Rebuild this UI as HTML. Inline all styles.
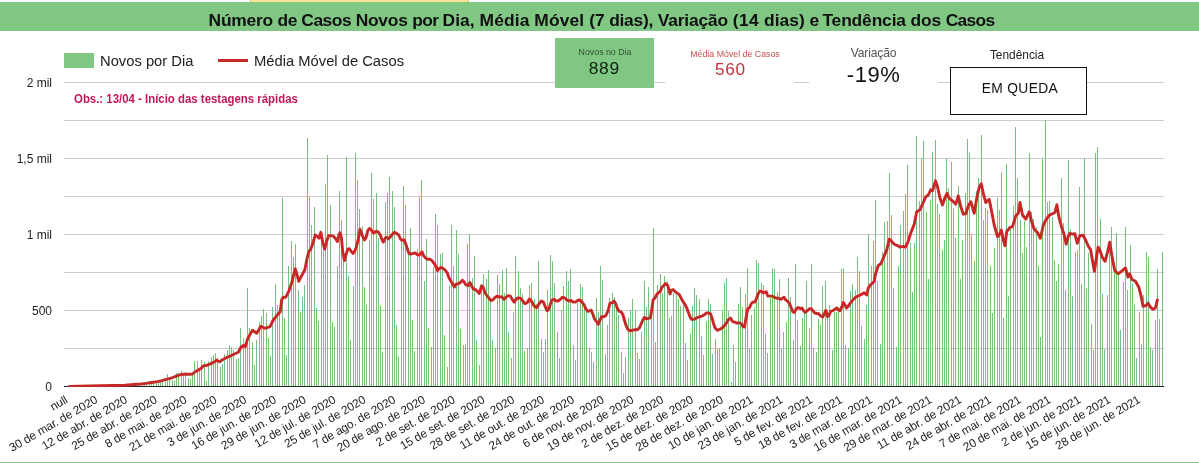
<!DOCTYPE html>
<html lang="pt-BR"><head><meta charset="utf-8"><title>Casos Novos por Dia</title>
<style>
html,body{margin:0;padding:0;background:#fff;}
body{width:1199px;height:463px;position:relative;overflow:hidden;font-family:"Liberation Sans",sans-serif;color:#222;}
svg{position:absolute;left:0;top:0;}
svg text{font-family:"Liberation Sans",sans-serif;}
h1,p{margin:0;font-weight:normal;}
.t,.sw,.card,.box,.strip,.hdr,.bot{position:absolute;white-space:nowrap;}
.chart,.cards,.legend{position:absolute;left:0;top:0;width:0;height:0;}
.hdr{left:0;top:2px;width:1199px;height:29px;background:#81c784;}
.strip{left:250px;top:0;width:219px;height:2px;background:#ffe599;border-left:1px solid #d9b44a;border-right:1px solid #d9b44a;box-sizing:border-box;}
.bot{left:0;top:462px;width:1199px;height:1px;background:#81c784;}
.ttl{display:flex;font-weight:bold;color:#111;letter-spacing:-0.18px;white-space:pre;}
.ttl span{min-width:0;}
.card{background:#fff;}
.box{box-sizing:border-box;border:1px solid #111;background:#fff;}
</style></head><body>
<div class="strip"></div>
<header class="hdr"><h1 class="t ttl" style="left:208.6px;top:9.77px;font-size:17.4px;line-height:17.4px;"><span style="flex:0 0 68.9px;letter-spacing:-0.24px">Número </span><span style="flex:0 0 23.8px;letter-spacing:-0.45px">de </span><span style="flex:0 0 54.4px;letter-spacing:-0.45px">Casos </span><span style="flex:0 0 56.5px;letter-spacing:-0.25px">Novos </span><span style="flex:0 0 30.4px;letter-spacing:-0.61px">por </span><span style="flex:0 0 37.0px;letter-spacing:0.06px">Dia, </span><span style="flex:0 0 54.8px;letter-spacing:0.12px">Média </span><span style="flex:0 0 54.9px;letter-spacing:0.14px">Móvel </span><span style="flex:0 0 19.9px;letter-spacing:-0.15px">(7 </span><span style="flex:0 0 48.5px;letter-spacing:-0.25px">dias), </span><span style="flex:0 0 75.2px;letter-spacing:-0.14px">Variação </span><span style="flex:0 0 31.2px;letter-spacing:0.32px">(14 </span><span style="flex:0 0 45.5px;letter-spacing:0.02px">dias) </span><span style="flex:0 0 12.9px;letter-spacing:-0.83px">e </span><span style="flex:0 0 88.2px;letter-spacing:-0.14px">Tendência </span><span style="flex:0 0 35.1px;letter-spacing:-0.15px">dos </span><span style="flex:0 0 52.9px;letter-spacing:-0.70px">Casos</span></h1></header>
<main class="chart">
<svg width="1199" height="463" viewBox="0 0 1199 463" role="img" aria-label="Casos novos por dia e média móvel">
<g shape-rendering="crispEdges" fill="#cccccc">
<rect x="64" y="348" width="1100" height="1"/>
<rect x="64" y="310" width="1100" height="1"/>
<rect x="64" y="272" width="1100" height="1"/>
<rect x="64" y="234" width="1100" height="1"/>
<rect x="64" y="196" width="1100" height="1"/>
<rect x="64" y="158" width="1100" height="1"/>
<rect x="64" y="120" width="1100" height="1"/>
<rect x="64" y="82" width="1100" height="1"/>
</g>
<path d="M112 386V385h1V386zM114 386V385h1V386zM117 386V385h1V386zM119 386V385h1V386zM121 386V385h1V386zM128 386V385h1V386zM130 386V385h1V386zM133 386V385h1V386zM135 386V384h1V386zM137 386V384h1V386zM139 386V385h1V386zM142 386V385h1V386zM144 386V383h1V386zM146 386V383h1V386zM149 386V383h1V386zM151 386V381h1V386zM153 386V382h1V386zM156 386V383h1V386zM158 386V383h1V386zM160 386V380h1V386zM162 386V379h1V386zM165 386V379h1V386zM167 386V374h1V386zM169 386V378h1V386zM172 386V380h1V386zM174 386V381h1V386zM176 386V373h1V386zM178 386V373h1V386zM181 386V371h1V386zM183 386V374h1V386zM185 386V372h1V386zM188 386V378h1V386zM190 386V379h1V386zM192 386V372h1V386zM194 386V361h1V386zM197 386V361h1V386zM199 386V368h1V386zM201 386V360h1V386zM204 386V362h1V386zM206 386V381h1V386zM208 386V361h1V386zM211 386V357h1V386zM213 386V355h1V386zM215 386V353h1V386zM217 386V358h1V386zM220 386V367h1V386zM222 386V364h1V386zM224 386V354h1V386zM227 386V350h1V386zM229 386V345h1V386zM231 386V347h1V386zM233 386V350h1V386zM236 386V359h1V386zM238 386V358h1V386zM240 386V328h1V386zM243 386V338h1V386zM245 386V342h1V386zM247 386V288h1V386zM249 386V328h1V386zM252 386V342h1V386zM254 386V365h1V386zM256 386V340h1V386zM259 386V322h1V386zM261 386V316h1V386zM263 386V309h1V386zM266 386V313h1V386zM268 386V338h1V386zM270 386V356h1V386zM272 386V307h1V386zM275 386V284h1V386zM277 386V305h1V386zM279 386V310h1V386zM282 386V198h1V386zM284 386V318h1V386zM286 386V355h1V386zM288 386V266h1V386zM291 386V241h1V386zM293 386V257h1V386zM295 386V244h1V386zM298 386V290h1V386zM300 386V312h1V386zM302 386V297h1V386zM304 386V285h1V386zM307 386V138h1V386zM309 386V197h1V386zM311 386V225h1V386zM314 386V207h1V386zM316 386V308h1V386zM318 386V321h1V386zM321 386V232h1V386zM323 386V245h1V386zM325 386V184h1V386zM327 386V155h1V386zM330 386V205h1V386zM332 386V322h1V386zM334 386V327h1V386zM337 386V266h1V386zM339 386V191h1V386zM341 386V220h1V386zM343 386V252h1V386zM346 386V157h1V386zM348 386V276h1V386zM350 386V340h1V386zM353 386V286h1V386zM355 386V153h1V386zM357 386V180h1V386zM359 386V209h1V386zM362 386V226h1V386zM364 386V287h1V386zM366 386V305h1V386zM369 386V240h1V386zM371 386V173h1V386zM373 386V199h1V386zM376 386V193h1V386zM378 386V238h1V386zM380 386V306h1V386zM382 386V352h1V386zM385 386V202h1V386zM387 386V193h1V386zM389 386V177h1V386zM392 386V191h1V386zM394 386V207h1V386zM396 386V325h1V386zM398 386V357h1V386zM401 386V240h1V386zM403 386V186h1V386zM405 386V205h1V386zM408 386V248h1V386zM410 386V228h1V386zM412 386V320h1V386zM414 386V351h1V386zM417 386V249h1V386zM419 386V197h1V386zM421 386V180h1V386zM424 386V281h1V386zM426 386V239h1V386zM428 386V328h1V386zM431 386V347h1V386zM433 386V267h1V386zM435 386V214h1V386zM437 386V225h1V386zM440 386V254h1V386zM442 386V253h1V386zM444 386V335h1V386zM447 386V367h1V386zM449 386V285h1V386zM451 386V225h1V386zM453 386V266h1V386zM456 386V230h1V386zM458 386V254h1V386zM460 386V329h1V386zM463 386V345h1V386zM465 386V344h1V386zM467 386V244h1V386zM469 386V234h1V386zM472 386V278h1V386zM474 386V256h1V386zM476 386V340h1V386zM479 386V365h1V386zM481 386V284h1V386zM483 386V274h1V386zM486 386V279h1V386zM488 386V270h1V386zM490 386V298h1V386zM492 386V340h1V386zM495 386V348h1V386zM497 386V275h1V386zM499 386V284h1V386zM502 386V270h1V386zM504 386V293h1V386zM506 386V268h1V386zM508 386V332h1V386zM511 386V358h1V386zM513 386V312h1V386zM515 386V256h1V386zM518 386V271h1V386zM520 386V288h1V386zM522 386V294h1V386zM524 386V351h1V386zM527 386V348h1V386zM529 386V285h1V386zM531 386V283h1V386zM534 386V299h1V386zM536 386V304h1V386zM538 386V261h1V386zM541 386V339h1V386zM543 386V352h1V386zM545 386V339h1V386zM547 386V290h1V386zM550 386V255h1V386zM552 386V261h1V386zM554 386V283h1V386zM557 386V332h1V386zM559 386V358h1V386zM561 386V310h1V386zM563 386V286h1V386zM566 386V271h1V386zM568 386V281h1V386zM570 386V269h1V386zM573 386V345h1V386zM575 386V360h1V386zM577 386V303h1V386zM580 386V284h1V386zM582 386V287h1V386zM584 386V307h1V386zM586 386V308h1V386zM589 386V348h1V386zM591 386V352h1V386zM593 386V362h1V386zM596 386V298h1V386zM598 386V312h1V386zM600 386V266h1V386zM602 386V280h1V386zM605 386V354h1V386zM607 386V325h1V386zM609 386V298h1V386zM612 386V293h1V386zM614 386V297h1V386zM616 386V307h1V386zM618 386V315h1V386zM621 386V352h1V386zM623 386V373h1V386zM625 386V357h1V386zM628 386V318h1V386zM630 386V310h1V386zM632 386V299h1V386zM635 386V310h1V386zM637 386V353h1V386zM639 386V359h1V386zM641 386V332h1V386zM644 386V281h1V386zM646 386V307h1V386zM648 386V287h1V386zM651 386V318h1V386zM653 386V228h1V386zM655 386V342h1V386zM657 386V285h1V386zM660 386V274h1V386zM662 386V293h1V386zM664 386V276h1V386zM667 386V281h1V386zM669 386V318h1V386zM671 386V316h1V386zM673 386V293h1V386zM676 386V295h1V386zM678 386V299h1V386zM680 386V306h1V386zM683 386V305h1V386zM685 386V343h1V386zM687 386V360h1V386zM690 386V334h1V386zM692 386V306h1V386zM694 386V288h1V386zM696 386V295h1V386zM699 386V299h1V386zM701 386V336h1V386zM703 386V355h1V386zM706 386V321h1V386zM708 386V299h1V386zM710 386V304h1V386zM712 386V354h1V386zM715 386V339h1V386zM717 386V349h1V386zM719 386V348h1V386zM722 386V310h1V386zM724 386V283h1V386zM726 386V278h1V386zM728 386V311h1V386zM731 386V382h1V386zM733 386V345h1V386zM735 386V362h1V386zM738 386V304h1V386zM740 386V287h1V386zM742 386V307h1V386zM745 386V294h1V386zM747 386V268h1V386zM749 386V348h1V386zM751 386V315h1V386zM754 386V308h1V386zM756 386V260h1V386zM758 386V263h1V386zM761 386V283h1V386zM763 386V285h1V386zM765 386V334h1V386zM767 386V353h1V386zM770 386V298h1V386zM772 386V268h1V386zM774 386V269h1V386zM777 386V292h1V386zM779 386V279h1V386zM781 386V348h1V386zM783 386V332h1V386zM786 386V322h1V386zM788 386V278h1V386zM790 386V297h1V386zM793 386V340h1V386zM795 386V264h1V386zM797 386V320h1V386zM800 386V346h1V386zM802 386V318h1V386zM804 386V312h1V386zM806 386V281h1V386zM809 386V328h1V386zM811 386V264h1V386zM813 386V348h1V386zM816 386V352h1V386zM818 386V319h1V386zM820 386V325h1V386zM822 386V286h1V386zM825 386V281h1V386zM827 386V313h1V386zM829 386V305h1V386zM832 386V350h1V386zM834 386V312h1V386zM836 386V312h1V386zM838 386V307h1V386zM841 386V269h1V386zM843 386V268h1V386zM845 386V345h1V386zM848 386V348h1V386zM850 386V291h1V386zM852 386V284h1V386zM855 386V290h1V386zM857 386V257h1V386zM859 386V271h1V386zM861 386V326h1V386zM864 386V339h1V386zM866 386V305h1V386zM868 386V234h1V386zM871 386V266h1V386zM873 386V241h1V386zM875 386V200h1V386zM877 386V281h1V386zM880 386V344h1V386zM882 386V252h1V386zM884 386V222h1V386zM887 386V221h1V386zM889 386V173h1V386zM891 386V215h1V386zM893 386V288h1V386zM896 386V347h1V386zM898 386V266h1V386zM900 386V225h1V386zM903 386V211h1V386zM905 386V194h1V386zM907 386V165h1V386zM910 386V243h1V386zM912 386V292h1V386zM914 386V243h1V386zM916 386V136h1V386zM919 386V201h1V386zM921 386V158h1V386zM923 386V141h1V386zM926 386V212h1V386zM928 386V279h1V386zM930 386V200h1V386zM932 386V152h1V386zM935 386V140h1V386zM937 386V204h1V386zM939 386V214h1V386zM942 386V250h1V386zM944 386V240h1V386zM946 386V158h1V386zM948 386V188h1V386zM951 386V162h1V386zM953 386V208h1V386zM955 386V238h1V386zM958 386V186h1V386zM960 386V279h1V386zM962 386V240h1V386zM965 386V193h1V386zM967 386V139h1V386zM969 386V153h1V386zM971 386V235h1V386zM974 386V261h1V386zM976 386V191h1V386zM978 386V178h1V386zM981 386V135h1V386zM983 386V220h1V386zM985 386V208h1V386zM987 386V210h1V386zM990 386V266h1V386zM992 386V313h1V386zM994 386V248h1V386zM997 386V198h1V386zM999 386V210h1V386zM1001 386V172h1V386zM1003 386V318h1V386zM1006 386V164h1V386zM1008 386V296h1V386zM1010 386V229h1V386zM1013 386V206h1V386zM1015 386V127h1V386zM1017 386V178h1V386zM1020 386V220h1V386zM1022 386V253h1V386zM1024 386V221h1V386zM1026 386V247h1V386zM1029 386V153h1V386zM1031 386V212h1V386zM1033 386V219h1V386zM1036 386V227h1V386zM1038 386V266h1V386zM1040 386V337h1V386zM1042 386V158h1V386zM1045 386V120h1V386zM1047 386V202h1V386zM1049 386V201h1V386zM1052 386V217h1V386zM1054 386V260h1V386zM1056 386V281h1V386zM1058 386V264h1V386zM1061 386V178h1V386zM1063 386V223h1V386zM1065 386V290h1V386zM1068 386V160h1V386zM1070 386V229h1V386zM1072 386V296h1V386zM1075 386V252h1V386zM1077 386V250h1V386zM1079 386V187h1V386zM1081 386V284h1V386zM1084 386V158h1V386zM1086 386V288h1V386zM1088 386V253h1V386zM1091 386V324h1V386zM1093 386V350h1V386zM1095 386V153h1V386zM1097 386V147h1V386zM1100 386V219h1V386zM1102 386V294h1V386zM1104 386V349h1V386zM1107 386V295h1V386zM1109 386V249h1V386zM1111 386V227h1V386zM1114 386V271h1V386zM1116 386V233h1V386zM1118 386V274h1V386zM1120 386V330h1V386zM1123 386V282h1V386zM1125 386V227h1V386zM1127 386V290h1V386zM1130 386V245h1V386zM1132 386V284h1V386zM1134 386V305h1V386zM1136 386V358h1V386zM1139 386V312h1V386zM1141 386V344h1V386zM1143 386V295h1V386zM1146 386V252h1V386zM1148 386V257h1V386zM1150 386V347h1V386zM1152 386V350h1V386zM1155 386V320h1V386zM1157 386V269h1V386zM1159 386V319h1V386zM1162 386V252h1V386z" fill="#77c17b" shape-rendering="crispEdges"/>
<rect x="64" y="386" width="1100" height="1" fill="#222" shape-rendering="crispEdges"/>
<clipPath id="ca"><rect x="64" y="40" width="1100" height="347"/></clipPath>
<polyline clip-path="url(#ca)" points="68.7,386.5 100.0,385.8 125.0,385.3 136.7,384.3 140.0,384.1 145.8,383.4 151.7,382.5 157.5,381.6 162.2,380.6 165.1,379.6 169.2,378.7 172.7,377.5 176.2,376.1 179.7,374.9 183.2,374.3 186.7,374.1 190.2,374.3 192.5,374.0 194.9,372.0 198.4,369.9 201.3,368.2 203.6,365.6 206.0,365.6 210.4,363.9 214.2,362.0 216.7,360.3 219.7,361.7 222.5,359.7 226.7,357.5 231.7,355.3 235.0,353.7 238.3,352.2 240.8,347.5 243.3,345.5 245.3,346.7 247.5,339.2 249.9,334.6 252.5,330.3 256.7,333.3 260.8,326.3 265.0,328.3 270.0,326.7 273.3,320.0 276.7,315.8 280.2,311.7 281.7,299.7 283.3,297.2 285.8,297.2 288.7,291.3 291.7,283.0 293.7,274.7 295.3,268.8 297.0,274.7 298.8,281.3 300.8,277.2 304.9,269.7 306.5,261.0 308.7,251.8 310.8,249.1 313.0,242.9 315.2,235.0 317.4,236.6 319.0,238.3 320.8,232.3 322.8,242.3 324.7,249.1 326.6,241.5 328.7,235.6 330.9,235.6 333.1,236.1 335.2,238.3 337.4,241.5 338.8,235.0 340.1,232.8 341.5,238.3 342.8,252.4 344.5,260.5 346.1,254.5 347.7,249.1 349.3,248.6 351.0,251.3 353.1,253.5 354.8,250.7 356.4,246.9 358.0,240.4 360.0,229.3 362.4,235.8 364.5,239.9 366.2,237.2 367.8,230.7 369.4,228.5 371.0,229.6 372.7,232.3 374.3,232.8 375.9,231.2 378.1,231.8 380.3,235.0 381.9,239.4 383.3,242.1 385.1,238.3 386.8,237.2 388.4,238.8 390.6,236.6 392.2,234.5 394.4,232.3 396.5,233.4 398.7,235.0 400.3,238.8 402.0,240.4 404.1,239.9 405.7,243.7 407.4,249.1 409.0,253.5 410.6,254.0 412.8,253.5 415.0,252.9 417.1,254.5 419.3,255.1 422.0,251.8 423.6,255.6 425.8,258.3 428.0,259.4 430.0,259.2 432.2,260.8 434.3,263.6 436.0,266.8 437.6,270.6 439.2,268.4 440.8,267.4 443.0,268.4 445.2,270.1 447.4,273.3 449.0,277.7 451.1,281.5 452.8,284.2 454.4,286.9 456.0,284.2 458.2,283.8 460.4,282.5 462.5,280.4 464.2,282.0 465.8,284.7 468.0,285.8 469.9,282.5 471.8,286.3 473.4,289.0 475.6,289.6 477.7,291.8 479.3,293.4 481.6,285.8 483.3,287.5 484.9,292.9 487.0,295.6 489.2,298.3 490.8,300.5 493.0,299.9 495.2,297.2 497.4,296.1 499.5,297.2 501.7,296.7 503.9,299.4 506.0,297.2 508.2,295.6 510.4,296.1 512.5,299.9 514.2,302.1 516.3,298.9 518.5,297.8 520.7,298.3 522.8,301.0 525.0,303.7 527.2,302.7 529.3,298.9 531.0,300.5 533.1,304.3 535.3,307.0 536.9,307.5 539.1,303.7 541.3,301.0 543.4,302.1 545.6,307.5 547.2,310.8 548.9,309.2 550.5,303.7 552.1,299.9 554.3,299.4 555.9,301.0 558.1,301.0 560.3,299.4 562.4,297.2 564.6,297.8 566.8,299.9 568.9,301.0 571.1,300.5 573.3,302.1 575.4,302.1 577.6,300.5 579.8,299.9 582.0,302.1 584.1,304.8 585.7,308.6 587.9,311.3 589.5,310.8 591.2,310.2 592.8,314.0 594.4,318.9 596.6,321.6 598.2,324.3 599.8,320.6 601.5,316.8 603.6,316.8 605.8,315.7 608.0,310.8 610.0,303.2 612.5,302.6 614.1,301.0 615.7,303.7 617.4,308.6 619.0,311.3 621.1,311.8 622.8,314.5 624.4,320.0 626.0,325.4 627.7,329.2 629.8,330.8 632.5,330.3 634.7,329.7 637.4,329.7 639.6,327.6 641.2,323.8 642.8,320.0 644.5,317.2 646.1,318.9 648.3,318.3 650.4,317.8 651.8,309.1 653.1,299.9 654.8,298.3 656.4,295.0 658.6,292.3 660.2,291.8 661.8,287.4 664.0,285.3 665.6,283.6 667.8,285.5 670.0,293.9 671.6,290.1 673.2,289.6 675.4,291.8 677.5,293.4 679.2,294.5 680.8,297.7 683.0,301.5 685.1,304.8 686.8,308.0 688.4,312.4 690.0,316.7 691.6,319.4 693.8,319.4 696.0,318.3 698.2,317.2 700.3,316.7 702.5,315.8 704.7,314.5 706.8,312.9 709.0,312.9 710.6,314.0 712.3,318.9 713.9,324.8 715.5,328.6 717.7,330.3 719.8,329.2 722.0,328.1 724.2,325.9 726.4,323.2 728.0,320.0 730.5,318.1 732.6,321.6 734.8,322.1 736.9,323.2 739.1,322.7 741.3,323.8 742.9,326.5 744.5,327.0 746.3,316.2 747.8,308.6 749.4,308.0 751.0,304.2 752.7,302.1 754.8,302.1 756.5,298.3 758.1,293.9 759.7,291.2 761.3,291.2 763.0,292.8 764.6,292.3 766.2,291.8 767.8,296.1 770.0,296.1 772.2,296.1 774.3,297.2 776.5,298.3 778.7,298.3 780.9,299.4 782.5,298.3 784.1,297.2 785.7,299.9 787.9,301.5 789.5,303.7 791.2,307.5 792.8,311.8 794.4,312.4 796.0,309.1 798.2,307.5 800.4,308.6 802.0,308.0 803.6,310.7 805.3,312.4 807.4,310.7 809.6,308.6 811.2,308.6 812.9,310.7 814.5,312.9 816.6,313.5 818.3,313.5 820.4,315.6 822.6,317.2 824.2,314.0 825.9,310.2 827.5,316.7 829.1,315.1 830.7,311.3 832.9,310.7 835.1,309.1 836.7,308.0 838.3,309.7 840.0,310.7 841.6,307.5 843.4,302.6 844.8,304.8 846.5,308.0 848.1,306.4 850.3,303.1 852.4,300.4 855.0,297.7 857.5,296.3 860.8,294.7 864.2,292.7 866.7,295.0 868.3,288.0 870.8,284.7 874.2,281.3 875.8,273.0 878.3,265.5 880.8,263.8 883.3,258.0 886.9,249.4 889.2,239.2 891.2,240.9 893.3,243.3 895.0,244.7 898.3,245.8 900.0,247.2 903.3,246.3 905.4,247.1 907.9,242.3 910.4,234.0 914.2,224.2 916.7,211.7 920.0,209.7 923.3,202.5 925.8,196.7 928.3,195.0 930.8,189.7 932.5,190.8 935.5,180.8 937.5,186.7 940.0,198.3 942.5,205.0 945.0,197.5 947.0,193.3 949.2,198.3 952.5,200.8 955.8,204.2 958.3,195.8 960.8,206.7 963.3,214.2 965.8,213.7 968.3,205.8 970.8,201.7 974.2,213.3 976.7,198.3 979.2,187.5 981.3,183.7 983.3,193.3 985.8,202.5 989.2,199.2 991.7,211.7 994.2,225.0 997.5,236.7 999.2,235.0 1001.3,230.0 1003.3,240.0 1005.0,245.8 1006.7,231.7 1010.0,227.5 1012.5,226.7 1015.8,215.8 1018.3,213.3 1020.0,202.5 1022.5,215.0 1025.8,219.2 1029.2,211.7 1031.7,221.7 1034.2,229.2 1037.5,232.5 1040.4,238.3 1043.3,225.0 1045.8,220.0 1049.4,215.2 1052.4,213.7 1054.9,212.5 1056.9,204.7 1059.0,217.5 1061.5,226.7 1064.0,234.2 1066.2,244.2 1068.2,236.7 1069.8,233.3 1072.3,234.2 1074.8,233.7 1077.3,243.3 1079.8,235.8 1083.1,235.3 1085.6,240.0 1088.1,245.8 1090.6,249.7 1092.3,259.7 1094.4,271.3 1096.4,258.0 1098.1,247.2 1099.8,249.7 1102.2,257.2 1105.1,261.3 1107.7,251.3 1109.7,242.2 1111.7,254.7 1114.7,270.5 1118.0,273.8 1121.4,271.3 1125.5,268.0 1128.0,277.2 1129.7,273.8 1132.2,279.7 1135.5,281.3 1138.8,287.2 1141.3,297.2 1143.0,306.3 1146.3,305.5 1148.0,303.0 1150.5,307.2 1153.0,309.3 1155.4,308.0 1157.6,298.8" fill="none" stroke="#c62828" stroke-width="2.9" stroke-linejoin="round" stroke-linecap="butt"/>
<g font-size="12" fill="#222" text-anchor="end">
<text x="52" y="390.6">0</text>
<text x="52" y="314.6">500</text>
<text x="52" y="238.6">1 mil</text>
<text x="52" y="162.6">1,5 mil</text>
<text x="52" y="86.6">2 mil</text>
</g>
<g font-size="11.8" fill="#222" text-anchor="end" letter-spacing="-0.12">
<text transform="translate(66.4,398.5) rotate(-30)" y="4.2">null</text>
<text transform="translate(96.2,398.5) rotate(-30)" y="4.2">30 de mar. de 2020</text>
<text transform="translate(126.0,398.5) rotate(-30)" y="4.2">12 de abr. de 2020</text>
<text transform="translate(155.8,398.5) rotate(-30)" y="4.2">25 de abr. de 2020</text>
<text transform="translate(185.6,398.5) rotate(-30)" y="4.2">8 de mai. de 2020</text>
<text transform="translate(215.4,398.5) rotate(-30)" y="4.2">21 de mai. de 2020</text>
<text transform="translate(245.2,398.5) rotate(-30)" y="4.2">3 de jun. de 2020</text>
<text transform="translate(275.0,398.5) rotate(-30)" y="4.2">16 de jun. de 2020</text>
<text transform="translate(304.8,398.5) rotate(-30)" y="4.2">29 de jun. de 2020</text>
<text transform="translate(334.6,398.5) rotate(-30)" y="4.2">12 de jul. de 2020</text>
<text transform="translate(364.4,398.5) rotate(-30)" y="4.2">25 de jul. de 2020</text>
<text transform="translate(394.2,398.5) rotate(-30)" y="4.2">7 de ago. de 2020</text>
<text transform="translate(424.0,398.5) rotate(-30)" y="4.2">20 de ago. de 2020</text>
<text transform="translate(453.8,398.5) rotate(-30)" y="4.2">2 de set. de 2020</text>
<text transform="translate(483.6,398.5) rotate(-30)" y="4.2">15 de set. de 2020</text>
<text transform="translate(513.3,398.5) rotate(-30)" y="4.2">28 de set. de 2020</text>
<text transform="translate(543.1,398.5) rotate(-30)" y="4.2">11 de out. de 2020</text>
<text transform="translate(572.9,398.5) rotate(-30)" y="4.2">24 de out. de 2020</text>
<text transform="translate(602.7,398.5) rotate(-30)" y="4.2">6 de nov. de 2020</text>
<text transform="translate(632.5,398.5) rotate(-30)" y="4.2">19 de nov. de 2020</text>
<text transform="translate(662.3,398.5) rotate(-30)" y="4.2">2 de dez. de 2020</text>
<text transform="translate(692.1,398.5) rotate(-30)" y="4.2">15 de dez. de 2020</text>
<text transform="translate(721.9,398.5) rotate(-30)" y="4.2">28 de dez. de 2020</text>
<text transform="translate(751.7,398.5) rotate(-30)" y="4.2">10 de jan. de 2021</text>
<text transform="translate(781.5,398.5) rotate(-30)" y="4.2">23 de jan. de 2021</text>
<text transform="translate(811.3,398.5) rotate(-30)" y="4.2">5 de fev. de 2021</text>
<text transform="translate(841.1,398.5) rotate(-30)" y="4.2">18 de fev. de 2021</text>
<text transform="translate(870.9,398.5) rotate(-30)" y="4.2">3 de mar. de 2021</text>
<text transform="translate(900.7,398.5) rotate(-30)" y="4.2">16 de mar. de 2021</text>
<text transform="translate(930.5,398.5) rotate(-30)" y="4.2">29 de mar. de 2021</text>
<text transform="translate(960.3,398.5) rotate(-30)" y="4.2">11 de abr. de 2021</text>
<text transform="translate(990.1,398.5) rotate(-30)" y="4.2">24 de abr. de 2021</text>
<text transform="translate(1019.8,398.5) rotate(-30)" y="4.2">7 de mai. de 2021</text>
<text transform="translate(1049.6,398.5) rotate(-30)" y="4.2">20 de mai. de 2021</text>
<text transform="translate(1079.4,398.5) rotate(-30)" y="4.2">2 de jun. de 2021</text>
<text transform="translate(1109.2,398.5) rotate(-30)" y="4.2">15 de jun. de 2021</text>
<text transform="translate(1139.0,398.5) rotate(-30)" y="4.2">28 de jun. de 2021</text>
</g>
</svg>
<div class="legend"><span class="sw" style="left:64px;top:53px;width:30px;height:15px;background:#81c784"></span><span class="t" style="left:100px;top:53.56px;font-size:14.75px;line-height:14.75px;color:#222;">Novos por Dia</span><span class="sw" style="left:218px;top:58.5px;width:30px;height:3px;background:#c62828"></span><span class="t" style="left:254px;top:53.56px;font-size:14.75px;line-height:14.75px;color:#222;">Média Móvel de Casos</span></div>
<p class="t note" style="left:74px;top:92.79px;font-size:12.3px;line-height:12.3px;color:#c2185b;font-weight:bold;transform:scaleX(0.928);transform-origin:0 0;">Obs.: 13/04 - Início das testagens rápidas</p>
</main>
<section class="cards">
<div class="card" style="left:555px;top:38px;width:99px;height:49.5px;background:#81c784;"><div class="t" style="left:50px;top:9.55px;font-size:8.8px;line-height:8.8px;color:rgba(0,0,0,0.62);transform:translateX(-50%);">Novos no Dia</div><div class="t" style="left:49.3px;top:21.67px;font-size:17.4px;line-height:17.4px;color:#0c1f0c;transform:translateX(-50%);letter-spacing:0.7px;">889</div></div>
<div class="card" style="left:665px;top:38px;width:129px;height:49px;"><div class="t" style="left:70px;top:11.55px;font-size:8.8px;line-height:8.8px;color:#c0504d;transform:translateX(-50%);">Média Móvel de Casos</div><div class="t" style="left:65.3px;top:23.34px;font-size:17.2px;line-height:17.2px;color:#c5303a;transform:translateX(-50%);letter-spacing:0.7px;">560</div></div>
<div class="card" style="left:809px;top:38px;width:129px;height:52px;"><div class="t" style="left:64.5px;top:9.46px;font-size:12.1px;line-height:12.1px;color:#555;transform:translateX(-50%);letter-spacing:-0.15px;">Variação</div><div class="t" style="left:64.6px;top:25.88px;font-size:22px;line-height:22px;color:#111;transform:translateX(-50%);letter-spacing:0.6px;">-19%</div></div>
<div class="card" style="left:950px;top:44px;width:137px;height:71px;background:none;"><div class="t" style="left:67px;top:6.13px;font-size:11.9px;line-height:11.9px;color:#222;transform:translateX(-50%);">Tendência</div><div class="box" style="left:0;top:23px;width:137px;height:48px;"><div class="t" style="left:68.9px;top:13.52px;font-size:13.8px;line-height:13.8px;color:#111;transform:translateX(-50%);letter-spacing:0.35px;">EM QUEDA</div></div></div>
</section>
<div class="bot"></div>
</body></html>
